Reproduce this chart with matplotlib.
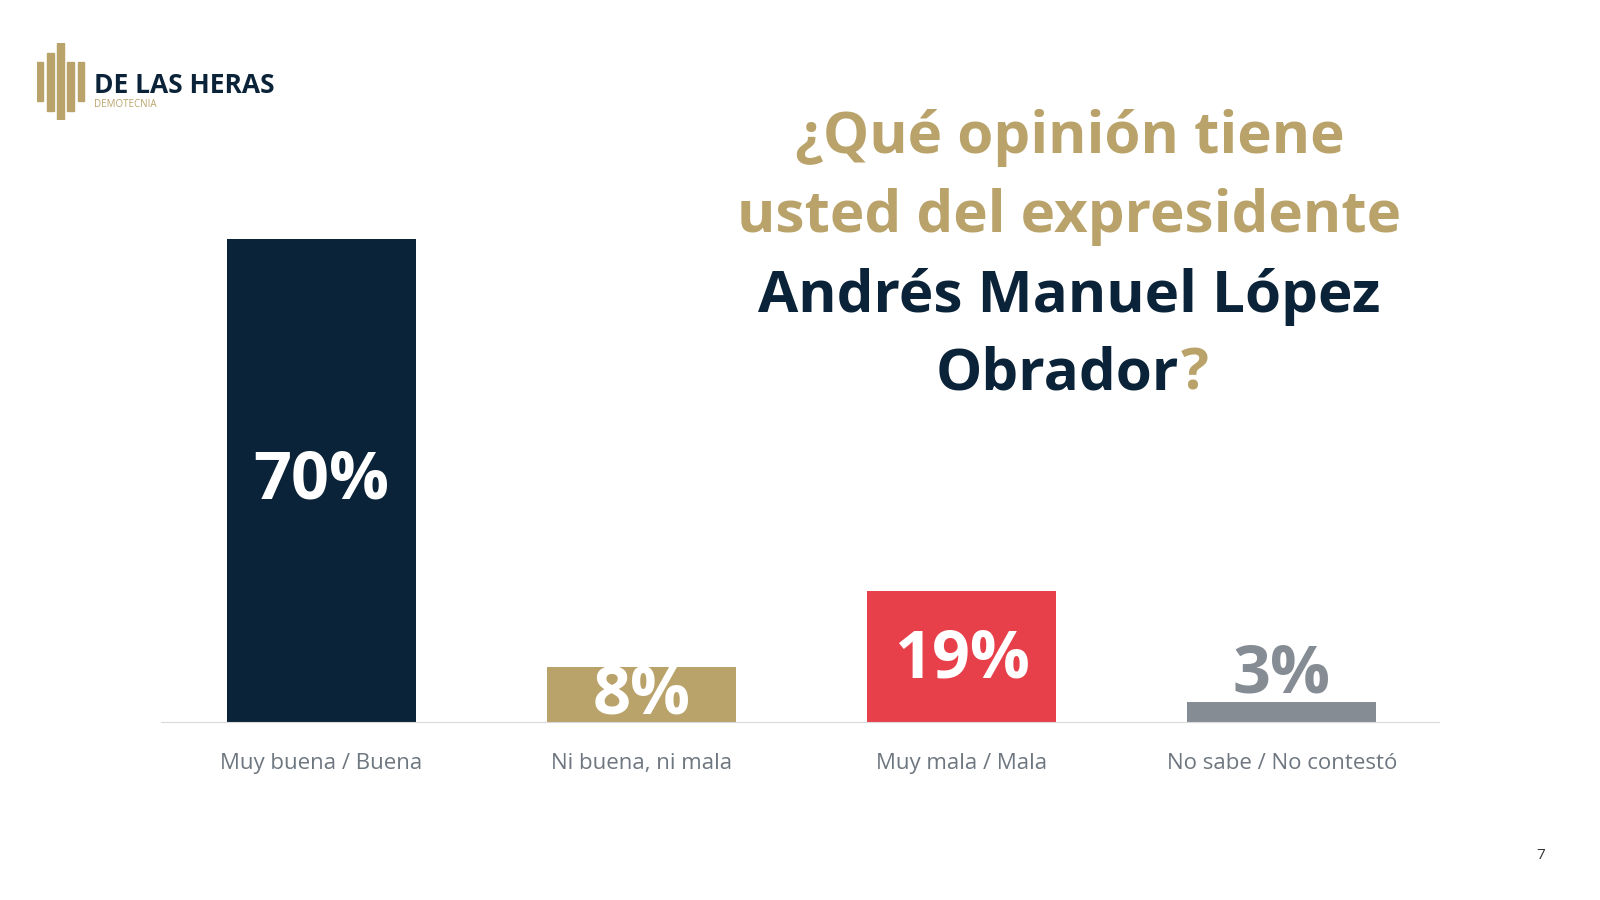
import matplotlib.pyplot as plt
import matplotlib.patches as mpatches

categories = ["Muy buena / Buena", "Ni buena, ni mala", "Muy mala / Mala", "No sabe / No contestó"]
values = [70, 8, 19, 3]
labels = ["70%", "8%", "19%", "3%"]
colors = ["#0B2338", "#B9A36A", "#E8404A", "#858C93"]
label_colors = ["white", "white", "white", "#858C93"]

plt.rcParams['font.family'] = ['Open Sans', 'DejaVu Sans']
gold = "#B9A36A"
navy = "#0B2338"

# reference coordinates
W, H = 1568, 882

fig = plt.figure(figsize=(16, 9), dpi=100)
ax = fig.add_axes([158/W, 1 - 708/H, (1410-158)/W, 474/H])
x = range(len(values))
ax.bar(x, values, width=0.59, color=colors, zorder=2)
ax.set_xlim(-0.5, 3.49)
ax.set_ylim(0, 70)
for s in ["top", "right", "left"]:
    ax.spines[s].set_visible(False)
ax.spines["bottom"].set_color("#D9D9D9")
ax.set_yticks([])
ax.set_xticks(list(x))
ax.set_xticklabels(categories, fontsize=16, color="#6E7780")
ax.tick_params(axis="x", length=0, pad=22)

# value labels
ypos = [35, 3.8, 9, 6.8]
for i, (v, t) in enumerate(zip(ypos, labels)):
    ax.text(i, v, t, ha="center", va="center", fontsize=48, fontweight="bold",
            color=label_colors[i], zorder=3, clip_on=(i == 1))

# title
cx = 1048/W
fig.text(cx, 1 - 135/H, "¿Qué opinión tiene", ha="center", va="center", fontsize=42, fontweight="bold", color=gold)
fig.text(cx, 1 - 213/H, "usted del expresidente", ha="center", va="center", fontsize=42, fontweight="bold", color=gold)
fig.text(cx, 1 - 291/H, "Andrés Manuel López", ha="center", va="center", fontsize=42, fontweight="bold", color=navy)
fig.text(1155/W, 1 - 367/H, "Obrador", ha="right", va="center", fontsize=42, fontweight="bold", color=navy)
fig.text(1157/W, 1 - 367/H, "?", ha="left", va="center", fontsize=42, fontweight="bold", color=gold)

# logo
lax = fig.add_axes([36/W, 1 - 118/H, 50/W, 76/H])
lax.set_xlim(0, 10)
lax.set_ylim(0, 16)
lax.axis("off")
for bx, by, bh in [(0, 4, 8), (2, 2, 12), (4, 0, 16), (6, 2, 10), (8, 4, 8)]:
    lax.add_patch(mpatches.Rectangle((bx, by), 1.3, bh, color=gold))
fig.text(92/W, 1 - 84/H, "DE LAS HERAS", fontsize=19, fontweight="bold", color=navy, va="center")
fig.text(92/W, 1 - 102/H, "DEMOTECNIA", fontsize=7, color=gold, va="center")

fig.text(1510/W, 1 - 838/H, "7", fontsize=11, color="#333333", ha="center", va="center")

fig.savefig("out.png", dpi=100, facecolor="white")
